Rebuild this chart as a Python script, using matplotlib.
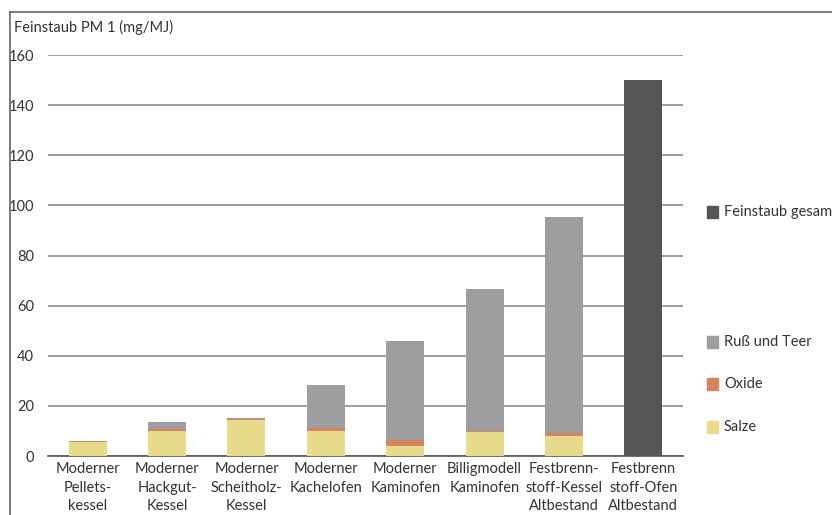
import matplotlib
matplotlib.use("Agg")
import matplotlib.pyplot as plt
from matplotlib.lines import Line2D
import numpy as np

plt.rcParams['font.family'] = ['Lato', 'DejaVu Sans']

# data
categories = [
    "Moderner\nPellets-\nkessel",
    "Moderner\nHackgut-\nKessel",
    "Moderner\nScheitholz-\nKessel",
    "Moderner\nKachelofen",
    "Moderner\nKaminofen",
    "Billigmodell\nKaminofen",
    "Festbrenn-\nstoff-Kessel\nAltbestand",
    "Festbrenn\nstoff-Ofen\nAltbestand",
]
salze = [5.5, 10.0, 14.3, 10.0, 3.8, 9.5, 8.0, 0]
oxide = [0.6, 0.6, 0.3, 1.2, 2.6, 0.6, 1.2, 0]
russ = [0, 2.8, 0.4, 17.3, 39.4, 56.5, 86.0, 0]
gesamt = [0, 0, 0, 0, 0, 0, 0, 150]
yticks = [0, 20, 40, 60, 80, 100, 120, 140, 160]

c_salze = '#e8dc8c'
c_oxide = '#d6845f'
c_russ = '#9e9ea0'
c_gesamt = '#555557'
txt = '#333333'

W, H = 832, 515
fig = plt.figure(figsize=(W / 100, H / 100), dpi=100)
ax = fig.add_axes([48 / W, (H - 456) / H, (683 - 48) / W, (456 - 55) / H])

x = np.arange(len(categories))
w = 0.48
s = np.array(salze)
o = np.array(oxide)
r = np.array(russ)
ax.bar(x, s, w, color=c_salze, zorder=3)
ax.bar(x, o, w, bottom=s, color=c_oxide, zorder=3)
ax.bar(x, r, w, bottom=s + o, color=c_russ, zorder=3)
ax.bar(x, gesamt, w, color=c_gesamt, zorder=3)

ax.set_xlim(-0.5, 7.5)
ax.set_ylim(0, 160)
ax.set_yticks(yticks)
ax.set_yticklabels([str(v) for v in yticks], fontsize=10.5, color=txt)
ax.set_xticks(x)
ax.set_xticklabels(categories, fontsize=10.5, color=txt, linespacing=1.45, va='top')
ax.tick_params(axis='both', length=0)
ax.tick_params(axis='y', pad=10)
ax.tick_params(axis='x', pad=4)
ax.yaxis.grid(True, color='#8e8e8e', linewidth=1.2)
ax.set_axisbelow(True)
for sp in ['top', 'right', 'left']:
    ax.spines[sp].set_visible(False)
ax.spines['bottom'].set_color('#555555')
ax.spines['bottom'].set_linewidth(1.2)

fig.text(14 / W, 1 - 27 / H, "Feinstaub PM 1 (mg/MJ)", fontsize=10.5,
         color=txt, va='center', ha='left')

# legend drawn by hand at the right edge
leg = [("Feinstaub gesamt", c_gesamt, 212), ("Ruß und Teer", c_russ, 342),
       ("Oxide", c_oxide, 384), ("Salze", c_salze, 427)]
for label, col, py in leg:
    fig.patches.append(plt.Rectangle((707 / W, 1 - (py + 6) / H), 11 / W, 12 / H,
                                     transform=fig.transFigure, color=col))
    fig.text(724 / W, 1 - py / H, label, fontsize=10.5, color=txt,
             va='center', ha='left')

# frame lines at top and left
fig.add_artist(Line2D([10 / W, 1], [1 - 12 / H, 1 - 12 / H], color='#666666', lw=1.2))
fig.add_artist(Line2D([10 / W, 10 / W], [0, 1 - 12 / H], color='#666666', lw=1.2))

fig.savefig("out.png", dpi=100)
